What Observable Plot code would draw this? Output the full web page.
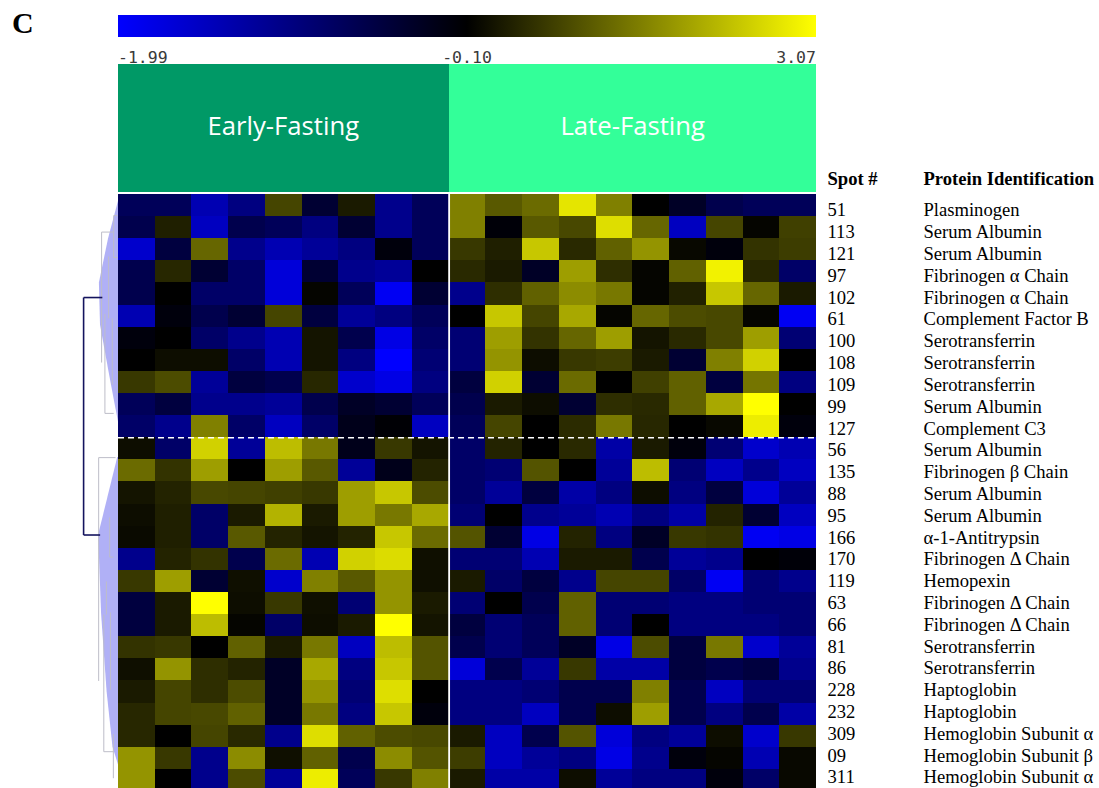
<!DOCTYPE html>
<html>
<head>
<meta charset="utf-8">
<script src="https://cdn.jsdelivr.net/npm/d3@7"></script>
<script src="https://cdn.jsdelivr.net/npm/@observablehq/plot@0.6"></script>
<style>
  html, body { margin: 0; padding: 0; background: #fff; }
  #page { position: relative; width: 1099px; height: 788px; overflow: hidden; background: #fff; }
  #page > svg { position: absolute; left: 0; top: 0; }
  .abs { position: absolute; }
  #letter { left: 12px; top: 8px; font: bold 30px "Liberation Serif", "Times New Roman", serif; line-height: 30px; color: #000; }
  .tick { font: 16.5px "DejaVu Sans Mono", monospace; color: #3a3a3a; line-height: 16.5px; top: 50px; white-space: nowrap; }
  .group { display: flex; align-items: center; justify-content: center; color: #fff; font: 25.7px "Open Sans", sans-serif; box-sizing: border-box; padding-bottom: 6px; }
</style>
</head>
<body>
<div id="page"></div>
<script>
// ---------- data ----------
const spotIds = ["51","113","121","97","102","61","100","108","109","99","127","56","135","88","95","166","170","119","63","66","81","86","228","232","309","09","311"];
const proteinNames = ["Plasminogen","Serum Albumin","Serum Albumin","Fibrinogen α Chain","Fibrinogen α Chain","Complement Factor B","Serotransferrin","Serotransferrin","Serotransferrin","Serum Albumin","Complement C3","Serum Albumin","Fibrinogen β Chain","Serum Albumin","Serum Albumin","α-1-Antitrypsin","Fibrinogen Δ Chain","Hemopexin","Fibrinogen Δ Chain","Fibrinogen Δ Chain","Serotransferrin","Serotransferrin","Haptoglobin","Haptoglobin","Hemoglobin Subunit α","Hemoglobin Subunit β","Hemoglobin Subunit α"];
const tableHeaders = ["Spot #", "Protein Identification"];
const groupNames = ["Early-Fasting", "Late-Fasting"];
const colorTicks = [-1.99, -0.10, 3.07];
const clusterBreakAfterRow = 11;

// Early-Fasting samples (9 columns) per protein row
const earlyFasting = [
  [-0.76,-0.76,-1.42,-1.05, 0.76,-0.48, 0.22,-1.14,-0.76],
  [-0.67, 0.28,-1.52,-0.67,-0.76,-1.05,-0.48,-1.14,-0.76],
  [-1.61,-0.57, 1.17,-1.14,-1.42,-1.23,-1.05,-0.19,-0.76],
  [-0.67, 0.38,-0.48,-0.86,-1.71,-0.48,-1.14,-1.23,-0.10],
  [-0.67,-0.10,-0.86,-0.86,-1.71,-0.04,-0.76,-1.90,-0.48],
  [-1.42,-0.19,-0.67,-0.48, 0.76,-0.57,-1.23,-1.05,-0.76],
  [-0.19,-0.10,-0.86,-1.14,-1.42, 0.15,-0.67,-1.80,-0.86],
  [-0.10, 0.06, 0.06,-0.86,-1.42, 0.15,-1.05,-1.99,-0.95],
  [ 0.60, 0.85,-1.23,-0.57,-0.67, 0.38,-1.61,-1.80,-1.05],
  [-0.76,-0.57,-1.14,-1.14,-1.23,-0.67,-0.38,-0.48,-0.76],
  [-0.86,-1.14, 1.49,-0.86,-1.52,-0.86,-0.29,-0.14,-1.52],
  [ 0.06,-0.86, 2.50,-1.23, 2.25, 1.39,-0.29, 0.60, 0.15],
  [ 1.23, 0.53, 1.87,-0.10, 1.87, 1.01,-1.23,-0.29, 0.34],
  [ 0.15, 0.34, 0.79, 0.76, 0.69, 0.60, 1.87, 2.37, 0.85],
  [ 0.06, 0.28,-0.86, 0.22, 2.12, 0.22, 1.87, 1.39, 1.99],
  [ 0.03, 0.28,-0.86, 1.01, 0.34, 0.15, 0.34, 2.37, 1.23],
  [-1.14, 0.34, 0.53,-0.67, 1.23,-1.42, 2.50, 2.63, 0.09],
  [ 0.60, 1.87,-0.48, 0.09,-1.61, 1.49, 1.01, 1.74, 0.09],
  [-0.57, 0.22, 3.07, 0.06, 0.60, 0.09,-0.95, 1.74, 0.22],
  [-0.57, 0.22, 2.25,-0.04,-0.86, 0.06, 0.22, 3.07, 0.15],
  [ 0.53, 0.60,-0.10, 1.10, 0.22, 1.39,-1.52, 2.25, 0.95],
  [ 0.09, 1.74, 0.47, 0.34,-0.38, 1.99,-1.05, 2.37, 0.95],
  [ 0.22, 0.76, 0.47, 0.85,-0.38, 1.74,-0.95, 2.66,-0.10],
  [ 0.38, 0.76, 0.79, 1.10,-0.38, 1.39,-1.05, 2.37,-0.19],
  [ 0.38,-0.10, 0.76, 0.41,-1.14, 2.66, 1.10, 0.85, 0.79],
  [ 1.74, 0.60,-1.14, 1.64, 0.09, 1.10,-0.67, 1.64, 0.95],
  [ 1.74,-0.10,-1.14, 0.85,-1.23, 2.85,-0.76, 0.60, 1.49]
];

// Late-Fasting samples (10 columns) per protein row
const lateFasting = [
  [ 1.49, 1.01, 1.23, 2.75, 1.49,-0.10,-0.38,-0.67,-0.76,-0.76],
  [ 1.49,-0.16, 1.01, 0.79, 2.66, 1.17,-1.52, 0.76,-0.04, 0.69],
  [ 0.60, 0.28, 2.37, 0.41, 1.10, 1.74, 0.00,-0.19, 0.53, 0.66],
  [ 0.41, 0.22,-0.38, 1.87, 0.47,-0.04, 1.10, 2.91, 0.38,-0.86],
  [-1.14, 0.47, 1.10, 1.64, 1.39,-0.04, 0.31, 2.37, 1.17, 0.22],
  [-0.10, 2.37, 0.76, 1.99,-0.04, 1.17, 0.85, 0.79,-0.04,-1.90],
  [-0.95, 1.87, 0.53, 1.17, 1.87, 0.15, 0.41, 0.79, 1.87,-0.95],
  [-0.95, 1.74, 0.06, 0.60, 0.66, 0.22,-0.48, 1.49, 2.50,-0.10],
  [-0.57, 2.50,-0.48, 1.23,-0.10, 0.69, 1.10,-0.57, 1.36,-1.05],
  [-0.67, 0.22, 0.06,-0.48, 0.47, 0.41, 1.10, 1.99, 3.07,-0.10],
  [-0.76, 0.76,-0.10, 0.44, 1.39, 0.38,-0.10, 0.00, 2.85,-0.19],
  [-0.86, 0.34,-0.10, 0.41,-1.33, 0.22,-0.19,-0.95,-1.61,-1.42],
  [-0.86,-0.95, 0.95,-0.10,-1.23, 2.25,-0.95,-1.52,-1.14,-1.52],
  [-0.86,-1.23,-0.57,-1.33,-1.05, 0.06,-1.05,-0.57,-1.71,-1.23],
  [-0.95,-0.10,-1.14,-1.23,-1.42,-1.05,-1.33, 0.34,-0.48,-1.52],
  [ 0.95,-0.48,-1.80, 0.34,-1.05,-0.38, 0.60, 0.53,-1.90,-1.80],
  [-0.95,-0.95,-1.42, 0.22, 0.22,-0.67,-1.23,-1.14,-0.10,-0.16],
  [ 0.22,-0.86,-0.57,-1.14, 0.76, 0.76,-0.86,-1.90,-0.95,-1.14],
  [-0.95,-0.10,-0.67, 1.10,-0.95,-0.95,-1.05,-1.05,-0.95,-0.95],
  [-0.57,-0.95,-0.76, 1.10,-0.95,-0.10,-1.05,-1.05,-1.05,-0.95],
  [-0.67,-0.95,-0.76,-0.38,-1.80, 0.85,-0.57, 1.39,-1.61,-1.23],
  [-1.71,-0.67,-1.23, 0.60,-1.33,-1.33,-0.57,-0.67,-0.57,-1.14],
  [-1.05,-1.05,-0.95,-0.67,-0.67, 1.49,-0.67,-1.52,-0.95,-0.95],
  [-1.05,-1.05,-1.52,-0.67, 0.06, 1.87,-0.67,-1.05,-0.67,-1.33],
  [ 0.22,-1.52,-0.67, 0.95,-1.71,-1.05,-1.23, 0.06,-1.61, 0.60],
  [ 0.66,-1.52,-1.23,-1.05,-1.80,-1.14,-0.19,-0.04,-1.42, 0.00],
  [ 0.22,-1.33,-1.33, 0.06,-1.23,-1.05,-1.05,-0.19,-0.86, 0.00]
];

// Row dendrogram (h = linkage height, r = row position)
const dendroShade = [
  {cluster: "A", r: 0.3, h: 0.0}, {cluster: "A", r: 2.0, h: 0.27}, {cluster: "A", r: 4.0, h: 0.52},
  {cluster: "A", r: 5.9, h: 0.49}, {cluster: "A", r: 8.0, h: 0.26}, {cluster: "A", r: 10.3, h: 0.0},
  {cluster: "B", r: 11.9, h: 0.02}, {cluster: "B", r: 15.4, h: 0.54}, {cluster: "B", r: 19.0, h: 0.46},
  {cluster: "B", r: 22.5, h: 0.31}, {cluster: "B", r: 25.0, h: 0.15}, {cluster: "B", r: 25.8, h: 0.0}
];
const dendroBranches = [
  [0.46,1.7,0.46,7.6],[0.46,1.7,0.13,1.7],[0.13,0.95,0.13,2.85],[0.13,0.95,0.03,0.95],[0.13,2.85,0.03,2.85],
  [0.37,5.4,0.37,9.9],[0.37,9.9,0.13,9.9],[0.27,2.8,0.27,5.6],[0.17,5.6,0.17,8.6],
  [0.54,11.9,0.54,22.0],[0.54,11.9,0.08,11.9],[0.40,19.0,0.40,25.2],[0.40,25.2,0.13,25.2],
  [0.33,17.5,0.33,19.0],[0.24,14.6,0.24,16.4],[0.24,16.4,0.14,16.4],[0.14,24.4,0.14,26.4],[0.22,18.9,0.22,22.4]
];
const dendroRoot = [
  [0.95,4.66,0.95,15.4],[0.95,4.66,0.44,4.66],[0.95,15.4,0.50,15.4]
];

// ---------- build ----------
const nEarly = earlyFasting[0].length;
const nLate = lateFasting[0].length;
const nCols = nEarly + nLate;
const nRows = spotIds.length;

const cells = [];
spotIds.forEach((s, r) => {
  earlyFasting[r].forEach((v, j) => cells.push({row: r, col: j, value: v}));
  lateFasting[r].forEach((v, j) => cells.push({row: r, col: nEarly + j, value: v}));
});
const labelRows = spotIds.map((s, r) => ({row: r, spot: s, protein: proteinNames[r]}));
const seg = a => ({h1: a[0], r1: a[1], h2: a[2], r2: a[3]});

const serif = "'Liberation Serif', 'Times New Roman', serif";

const plot = Plot.plot({
  width: 1099,
  height: 791,
  marginTop: 194,
  marginBottom: 0,
  marginLeft: 118,
  marginRight: 283,
  x: {domain: [0, nCols], axis: null},
  y: {domain: [0, nRows], reverse: true, axis: null},
  color: {
    type: "diverging",
    domain: [colorTicks[0], colorTicks[2]],
    pivot: colorTicks[1],
    symmetric: false,
    interpolate: d3.piecewise(d3.interpolateRgb, ["#0000ff", "#000000", "#ffff00"])
  },
  style: {background: "transparent"},
  marks: [
    Plot.areaX(dendroShade, {y: "r", x1: 0, x2: d => -d.h, z: "cluster", fill: "#b0b0f6", curve: "linear"}),
    Plot.link(dendroBranches.map(seg), {x1: d => -d.h1, y1: "r1", x2: d => -d.h2, y2: "r2", stroke: "#bdbdc8", strokeWidth: 1}),
    Plot.link(dendroRoot.map(seg), {x1: d => -d.h1, y1: "r1", x2: d => -d.h2, y2: "r2", stroke: "#14145e", strokeWidth: 1.6}),
    Plot.rect(cells, {x1: "col", x2: d => d.col + 1, y1: "row", y2: d => d.row + 1, fill: "value", shapeRendering: "crispEdges"}),
    Plot.ruleX([nEarly], {stroke: "#fff", strokeWidth: 1.8}),
    Plot.ruleY([clusterBreakAfterRow], {stroke: "#fff", strokeWidth: 1.5, strokeDasharray: "6,4"})
  ]
});

// Identification table to the right (its own row spacing, like the source table)
const table = Plot.plot({
  width: 1099,
  height: 788,
  marginTop: 179,
  marginBottom: 0,
  marginLeft: 816,
  marginRight: 0,
  x: {axis: null},
  y: {type: "linear", domain: [0, nRows - 1], range: [210, 777], axis: null},
  style: {background: "transparent"},
  marks: [
    Plot.text(labelRows, {y: "row", text: "spot", frameAnchor: "left", textAnchor: "start", dx: 11, fontFamily: serif, fontSize: 18.6, fill: "#000"}),
    Plot.text(labelRows, {y: "row", text: "protein", frameAnchor: "left", textAnchor: "start", dx: 107, fontFamily: serif, fontSize: 18.6, fill: "#000"}),
    Plot.text([tableHeaders[0]], {text: d => d, frameAnchor: "top-left", lineAnchor: "middle", textAnchor: "start", dx: 11, fontFamily: serif, fontSize: 18.6, fontWeight: "bold", fill: "#000"}),
    Plot.text([tableHeaders[1]], {text: d => d, frameAnchor: "top-left", lineAnchor: "middle", textAnchor: "start", dx: 107, fontFamily: serif, fontSize: 18.6, fontWeight: "bold", fill: "#000"})
  ]
});

const page = document.getElementById("page");
page.appendChild(plot);
page.appendChild(table);

// ---------- header: panel letter, color bar, group boxes ----------
const xs = plot.scale("x");
const cs = plot.scale("color");
const px = v => xs.apply(v);
const xLeft = px(0), xRight = px(nCols);
const colorOf = v => (cs && cs.apply) ? cs.apply(v) : d3.piecewise(d3.interpolateRgb, ["#0000ff","#000000","#ffff00"])((v - colorTicks[0]) / (colorTicks[2] - colorTicks[0]));

function addDiv(cls, style, text) {
  const d = document.createElement("div");
  d.className = "abs " + cls;
  Object.assign(d.style, style);
  if (text != null) d.textContent = text;
  page.appendChild(d);
  return d;
}

addDiv("", {}, "C").id = "letter";

addDiv("", {
  left: xLeft + "px", top: "15px", width: (xRight - xLeft) + "px", height: "22px",
  background: `linear-gradient(to right, ${colorOf(colorTicks[0])} 0%, ${colorOf(colorTicks[1])} 50%, ${colorOf(colorTicks[2])} 100%)`
});

const barW = xRight - xLeft;
const tickFmt = v => d3.format(".2f")(v).replace("−", "-");
addDiv("tick", {left: xLeft + "px"}, tickFmt(colorTicks[0]));
addDiv("tick", {left: (xLeft + barW / 2) + "px", transform: "translateX(-50%)"}, tickFmt(colorTicks[1]));
addDiv("tick", {right: (1099 - xRight) + "px"}, tickFmt(colorTicks[2]));

const groupFill = ["#009966", "#33ff99"];
const groupSpan = [[0, nEarly], [nEarly, nCols]];
groupNames.forEach((g, i) => {
  const a = px(groupSpan[i][0]), b = px(groupSpan[i][1]);
  addDiv("group", {
    left: (a + (i ? 0.8 : 0)) + "px", top: "64px", width: (b - a - (i ? 0.8 : 0)) + "px", height: "128px",
    background: groupFill[i]
  }, g);
});
</script>
</body>
</html>
